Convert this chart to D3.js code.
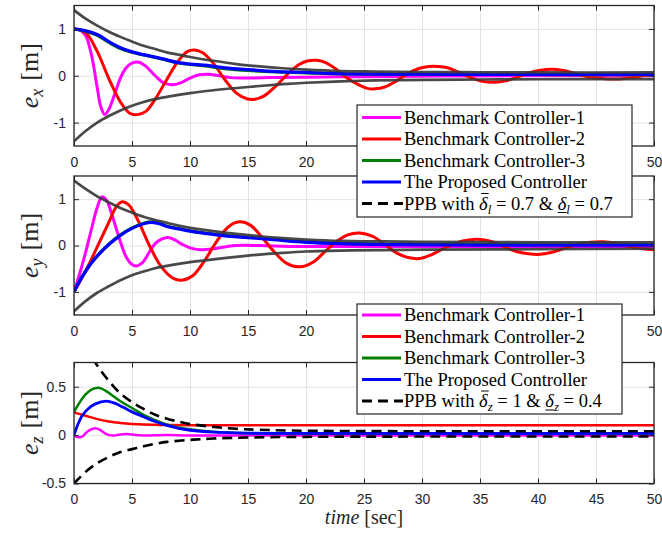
<!DOCTYPE html>
<html>
<head>
<meta charset="utf-8">
<script src="https://cdn.jsdelivr.net/npm/d3@7"></script>
<style>
  body { margin: 0; background: #fff; }
  svg { display: block; }
</style>
</head>
<body>
<svg id="chart" width="662" height="535"></svg>
<script>
// ---------- data: [time (s), error (m)] ----------
const xTickValues = [0, 5, 10, 15, 20, 25, 30, 35, 40, 45, 50];

// e_x
const exBench1 = [[0,1],[0.5,0.98],[1,0.86],[1.5,0.45],[2,-0.25],[2.3,-0.65],[2.65,-0.83],[3,-0.72],[3.5,-0.4],[4,-0.05],[4.5,0.17],[5,0.27],[5.6,0.29],[6.2,0.2],[7,0.0],[7.7,-0.15],[8.5,-0.19],[9.3,-0.14],[10,-0.05],[10.8,0.02],[11.6,0.03],[12.5,0.0],[13.5,-0.04],[15,-0.05],[17,-0.04],[20,-0.03],[25,-0.02],[30,-0.01],[35,-0.005],[40,0],[50,0]];
const exBench2 = [[0,1],[1,0.92],[2,0.52],[3,-0.06],[4,-0.56],[4.8,-0.8],[5.45,-0.83],[6.2,-0.76],[7,-0.5],[8,-0.08],[9,0.32],[9.8,0.52],[10.4,0.55],[11.1,0.49],[12,0.27],[13,-0.08],[14,-0.37],[14.9,-0.49],[15.6,-0.5],[16.4,-0.43],[17.4,-0.22],[18.4,0.03],[19.4,0.24],[20.2,0.32],[20.9,0.33],[21.7,0.28],[22.7,0.12],[23.6,-0.06],[24.6,-0.2],[25.3,-0.27],[25.95,-0.28],[26.8,-0.24],[27.8,-0.11],[28.8,0.05],[29.8,0.16],[30.6,0.2],[31.4,0.2],[32.2,0.17],[33.2,0.07],[34.2,-0.04],[35.2,-0.12],[36.3,-0.14],[37.2,-0.11],[38.2,-0.03],[39.2,0.06],[40.2,0.12],[41.3,0.14],[42.3,0.11],[43.3,0.04],[44.3,-0.02],[45.5,-0.06],[46.8,-0.07],[48,-0.04],[49,0.0],[50,0.04]];
const exBench3 = [[0,1],[1,0.95],[2,0.86],[3,0.71],[4,0.58],[5,0.5],[6,0.44],[7,0.39],[8,0.33],[9,0.27],[10,0.24],[11.5,0.2],[13,0.15],[15,0.11],[17.5,0.08],[20,0.06],[23,0.04],[27,0.03],[35,0.025],[50,0.02]];
const exProposed = [[0,1],[1,0.96],[2,0.88],[3,0.73],[4,0.6],[5,0.51],[6,0.45],[7,0.4],[8,0.34],[9,0.28],[10,0.25],[11.5,0.22],[13,0.17],[15,0.13],[17.5,0.09],[20,0.07],[23,0.045],[27,0.035],[35,0.03],[50,0.03]];
const exUpper = [[0,1.4],[1,1.22],[2,1.07],[3,0.94],[4,0.83],[5,0.73],[6,0.64],[7,0.57],[8,0.5],[9,0.45],[10,0.4],[12,0.32],[14,0.25],[16,0.2],[18,0.16],[20,0.13],[23,0.1],[26,0.09],[30,0.08],[35,0.075],[40,0.07],[50,0.07]];
const exLower = [[0,-1.4],[1,-1.18],[2,-1.0],[3,-0.86],[4,-0.74],[5,-0.64],[6,-0.56],[7,-0.5],[8,-0.45],[10,-0.37],[12,-0.31],[15,-0.24],[18,-0.18],[20,-0.15],[23,-0.12],[26,-0.1],[30,-0.09],[35,-0.08],[40,-0.075],[50,-0.07]];

// e_y
const eyBench1 = [[0,-1],[0.5,-0.6],[1,-0.15],[1.5,0.35],[2,0.82],[2.4,1.05],[2.8,0.98],[3.2,0.72],[3.6,0.4],[4,0.08],[4.5,-0.25],[5,-0.41],[5.4,-0.44],[5.9,-0.37],[6.5,-0.14],[7,0.04],[7.5,0.13],[8.1,0.17],[8.7,0.12],[9.3,0.03],[10,-0.05],[10.9,-0.09],[12,-0.07],[13,-0.03],[14,0.0],[16,0.0],[19,-0.02],[25,-0.02],[35,-0.02],[50,-0.02]];
const eyBench2 = [[0,-1],[1,-0.55],[2,-0.03],[3,0.5],[3.6,0.82],[4.1,0.94],[4.7,0.88],[5.5,0.55],[6.5,0.0],[7.5,-0.45],[8.5,-0.7],[9.3,-0.75],[10.2,-0.66],[11.2,-0.35],[12.2,0.05],[13.3,0.4],[14.25,0.51],[15.2,0.44],[16.2,0.18],[17.2,-0.12],[18.3,-0.38],[19.5,-0.46],[20.6,-0.36],[21.6,-0.14],[22.6,0.08],[23.6,0.23],[24.65,0.27],[25.7,0.2],[26.8,0.02],[27.8,-0.16],[28.8,-0.26],[29.8,-0.28],[30.8,-0.2],[31.9,-0.06],[33,0.06],[34,0.12],[35.1,0.13],[36.2,0.07],[37.3,-0.05],[38.3,-0.14],[39.2,-0.18],[40.2,-0.19],[41.3,-0.14],[42.4,-0.05],[43.5,0.03],[44.5,0.07],[45.6,0.08],[46.7,0.05],[48,-0.03],[49,-0.07],[50,-0.09]];
const eyBench3 = [[0,-1],[0.5,-0.75],[1,-0.55],[1.5,-0.37],[2,-0.22],[3,0.03],[4,0.23],[5,0.38],[6,0.48],[6.7,0.51],[7.5,0.47],[8,0.42],[9,0.37],[10,0.32],[11,0.28],[12,0.25],[13,0.22],[15,0.18],[17,0.14],[20,0.08],[23,0.05],[27,0.03],[35,0.02],[50,0.02]];
const eyProposed = [[0,-1],[0.5,-0.76],[1,-0.56],[1.5,-0.38],[2,-0.23],[3,0.02],[4,0.22],[5,0.37],[6,0.47],[6.7,0.5],[7.5,0.46],[8,0.41],[9,0.36],[10,0.31],[11,0.27],[12,0.24],[13,0.21],[15,0.17],[17,0.13],[20,0.07],[23,0.04],[27,0.02],[35,0.01],[50,0.01]];
const eyUpper = [[0,1.4],[1,1.22],[2,1.06],[3,0.93],[4,0.81],[5,0.71],[6,0.62],[7,0.55],[8,0.49],[9,0.43],[10,0.38],[12,0.31],[14,0.25],[16,0.2],[18,0.16],[20,0.13],[23,0.1],[26,0.09],[30,0.08],[40,0.07],[50,0.07]];
const eyLower = [[0,-1.42],[1,-1.2],[2,-1.02],[3,-0.88],[4,-0.75],[5,-0.64],[6,-0.56],[7,-0.49],[8,-0.44],[10,-0.36],[12,-0.3],[15,-0.22],[18,-0.16],[20,-0.13],[23,-0.11],[26,-0.1],[30,-0.09],[40,-0.08],[50,-0.07]];

// e_z
const ezBench1 = [[0,0],[0.3,-0.02],[0.7,-0.015],[1.2,0.04],[1.8,0.07],[2.3,0.05],[2.8,0.01],[3.3,-0.005],[4,0.005],[4.6,0.012],[5.3,0.0],[6,-0.005],[8,0.0],[10,-0.005],[20,-0.005],[50,-0.005]];
const ezBench2 = [[0,0.235],[1,0.2],[2,0.165],[3,0.14],[4,0.125],[5,0.115],[6,0.109],[7,0.106],[8,0.104],[10,0.103],[50,0.103]];
const ezBench3 = [[0,0.24],[0.5,0.34],[1,0.42],[1.5,0.47],[2.1,0.49],[2.7,0.46],[3.3,0.41],[4,0.35],[5,0.28],[6,0.21],[7,0.155],[8,0.11],[9,0.08],[10,0.06],[12,0.035],[15,0.02],[20,0.015],[50,0.015]];
const ezProposed = [[0,0],[0.3,0.1],[0.7,0.2],[1.2,0.27],[1.8,0.32],[2.8,0.35],[3.5,0.33],[4.2,0.29],[5,0.24],[6,0.19],[7,0.14],[8,0.1],[9,0.07],[10,0.05],[12,0.03],[15,0.02],[20,0.017],[50,0.017]];
const ezUpper = [[0,1.25],[0.5,1.08],[1,0.94],[1.5,0.82],[2,0.72],[3,0.56],[4,0.43],[5,0.34],[6,0.27],[7,0.21],[8,0.17],[9,0.14],[10,0.115],[12,0.085],[14,0.065],[16,0.055],[20,0.045],[30,0.04],[50,0.04]];
const ezLower = [[0,-0.5],[1,-0.38],[2,-0.29],[3,-0.225],[4,-0.175],[5,-0.145],[6,-0.115],[7,-0.09],[8,-0.07],[10,-0.05],[12,-0.035],[15,-0.025],[20,-0.018],[30,-0.015],[50,-0.015]];

const seriesNames = ["Benchmark Controller-1", "Benchmark Controller-2", "Benchmark Controller-3", "The Proposed Controller"];
const seriesColors = ["#ff00ff", "#ff0000", "#008000", "#0000ff"];

// ---------- layout ----------
const svg = d3.select("#chart");
const left = 74, right = 654;
const axisColor = "#262626";
const serif = "'Liberation Serif', 'Times New Roman', serif";
const x = d3.scaleLinear().domain([0, 50]).range([left, right]);

// legend boxes sit over the lower part of the upper two panels
const legendBoxes = [
  { x: 357, y: 105, w: 275, h: 112 },
  { x: 357, y: 304, w: 265, h: 110 }
];
const underLegend = (px, py) => legendBoxes.some(b => px > b.x && px < b.x + b.w && py > b.y && py < b.y + b.h);

const panels = [
  { sub: "x", top: 5.5, bottom: 146, domain: [-1.5, 1.5], ticks: [-1, 0, 1],
    series: [exBench1, exBench2, exBench3, exProposed], upper: exUpper, lower: exLower, dashed: false, lw: 3 },
  { sub: "y", top: 176, bottom: 315, domain: [-1.5, 1.5], ticks: [-1, 0, 1],
    series: [eyBench1, eyBench2, eyBench3, eyProposed], upper: eyUpper, lower: eyLower, dashed: false, lw: 3 },
  { sub: "z", top: 362.5, bottom: 483.5, domain: [-0.5, 0.75], ticks: [-0.5, 0, 0.5],
    series: [ezBench1, ezBench2, ezBench3, ezProposed], upper: ezUpper, lower: ezLower, dashed: true, lw: 2.5 }
];

const defs = svg.append("defs");

panels.forEach((p, i) => {
  const y = d3.scaleLinear().domain(p.domain).range([p.bottom, p.top]);
  const h = p.bottom - p.top;
  const g = svg.append("g");

  defs.append("clipPath").attr("id", "clip" + i)
    .append("rect").attr("x", left).attr("y", p.top).attr("width", right - left).attr("height", h);

  // grid
  g.append("g").attr("transform", `translate(0,${p.bottom})`)
    .call(d3.axisBottom(x).tickValues(xTickValues).tickSize(-h).tickFormat(""))
    .call(a => a.select(".domain").remove())
    .selectAll("line").attr("stroke", "#e3e3e3").attr("stroke-width", 1);
  g.append("g").attr("transform", `translate(${left},0)`)
    .call(d3.axisLeft(y).tickValues(p.ticks).tickSize(-(right - left)).tickFormat(""))
    .call(a => a.select(".domain").remove())
    .selectAll("line").attr("stroke", "#e3e3e3").attr("stroke-width", 1);

  // curves
  const line = d3.line().x(d => x(d[0])).y(d => y(d[1])).curve(d3.curveCatmullRom.alpha(0.5));
  const plot = g.append("g").attr("clip-path", `url(#clip${i})`);
  p.series.forEach((s, k) => {
    plot.append("path").datum(s).attr("d", line)
      .attr("fill", "none").attr("stroke", seriesColors[k])
      .attr("stroke-width", k === 3 ? p.lw + 0.3 : p.lw)
      .attr("stroke-linejoin", "round");
  });
  [p.upper, p.lower].forEach(b => {
    const path = plot.append("path").datum(b).attr("d", line).attr("fill", "none");
    if (p.dashed) {
      path.attr("stroke", "#000").attr("stroke-width", 2.6).attr("stroke-dasharray", "10,6");
    } else {
      path.attr("stroke", "#3a3a3a").attr("stroke-opacity", 0.92).attr("stroke-width", 2.7);
    }
  });

  // axes: inward ticks on all sides
  const styleAxis = a => {
    a.select(".domain").remove();
    a.selectAll("line").attr("stroke", axisColor).attr("stroke-width", 1);
    a.selectAll("text").attr("fill", axisColor).attr("font-family", "'Liberation Sans', Arial, sans-serif").attr("font-size", 14);
  };
  g.append("g").attr("transform", `translate(0,${p.bottom})`)
    .call(d3.axisBottom(x).tickValues(xTickValues).tickSize(-5).tickPadding(11).tickFormat(d3.format("d")))
    .call(styleAxis)
    .call(a => a.selectAll(".tick text").filter(d => underLegend(x(d), p.bottom + 16)).remove());
  g.append("g").attr("transform", `translate(0,${p.top})`)
    .call(d3.axisTop(x).tickValues(xTickValues).tickSize(-5).tickFormat(""))
    .call(styleAxis);
  g.append("g").attr("transform", `translate(${left},0)`)
    .call(d3.axisLeft(y).tickValues(p.ticks).tickSize(-5).tickPadding(8).tickFormat(d => String(d)))
    .call(styleAxis);
  g.append("g").attr("transform", `translate(${right},0)`)
    .call(d3.axisRight(y).tickValues(p.ticks).tickSize(-5).tickFormat(""))
    .call(styleAxis);

  g.append("rect").attr("x", left).attr("y", p.top).attr("width", right - left).attr("height", h)
    .attr("fill", "none").attr("stroke", axisColor).attr("stroke-width", 1.3);

  // y label: e_sub [m]
  const cy = (p.top + p.bottom) / 2;
  const lab = svg.append("text")
    .attr("transform", `translate(38,${cy}) rotate(-90)`)
    .attr("text-anchor", "middle")
    .attr("font-family", serif)
    .attr("font-size", 26).attr("fill", axisColor);
  lab.append("tspan").attr("font-style", "italic").text("e");
  lab.append("tspan").attr("font-style", "italic").attr("font-size", 18).attr("dy", 5).text(p.sub);
  lab.append("tspan").attr("dy", -5).attr("dx", 8).text("[m]");
});

// x label
const xl = svg.append("text")
  .attr("x", (left + right) / 2).attr("y", 524).attr("text-anchor", "middle")
  .attr("font-family", serif)
  .attr("font-size", 20).attr("fill", axisColor);
xl.append("tspan").attr("font-style", "italic").text("time");
xl.append("tspan").attr("dx", 5).text("[sec]");

// ---------- legends ----------
function drawLegend(box, rowY, ppbParts) {
  const g = svg.append("g");
  g.append("rect").attr("x", box.x).attr("y", box.y).attr("width", box.w).attr("height", box.h)
    .attr("fill", "#fff").attr("stroke", axisColor).attr("stroke-width", 1.2);
  seriesNames.forEach((name, k) => {
    const cy = rowY[k];
    g.append("line").attr("x1", box.x + 5).attr("x2", box.x + 44).attr("y1", cy).attr("y2", cy)
      .attr("stroke", seriesColors[k]).attr("stroke-width", 3);
    g.append("text").attr("x", box.x + 47).attr("y", cy + 6)
      .attr("font-family", serif).attr("font-size", 18.5).attr("fill", "#000").text(name);
  });
  const cy = rowY[4];
  g.append("line").attr("x1", box.x + 5).attr("x2", box.x + 46).attr("y1", cy).attr("y2", cy)
    .attr("stroke", "#000").attr("stroke-width", 3).attr("stroke-dasharray", "10,6");
  const t = g.append("text").attr("x", box.x + 47).attr("y", cy + 6)
    .attr("font-family", serif).attr("font-size", 18.5).attr("fill", "#000");
  let idx = 0;
  const marks = [];
  ppbParts.forEach((part, j) => {
    const ts = t.append("tspan").text(part.t);
    if (part.it) ts.attr("font-style", "italic");
    if (part.sub) ts.attr("font-size", 13).attr("dy", 4);
    const prev = ppbParts[j - 1];
    if (prev && prev.sub && !part.sub) ts.attr("dy", -4);
    if (part.over || part.under) marks.push({ i: idx, over: !!part.over });
    idx += part.t.length;
  });
  const node = t.node();
  marks.forEach(m => {
    const s = node.getStartPositionOfChar(m.i);
    const e = node.getEndPositionOfChar(m.i);
    const yy = m.over ? s.y - 16 : s.y + 3;
    g.append("line").attr("x1", s.x + (m.over ? 2 : 0)).attr("x2", e.x + (m.over ? 1 : 0))
      .attr("y1", yy).attr("y2", yy).attr("stroke", "#000").attr("stroke-width", 1);
  });
}

drawLegend(legendBoxes[0], [117.5, 139, 160.5, 182, 203.5], [
  { t: "PPB with " }, { t: "δ", it: true, over: true }, { t: "l", it: true, sub: true },
  { t: " = 0.7 & " }, { t: "δ", it: true, under: true }, { t: "l", it: true, sub: true }, { t: " = 0.7" }
]);
drawLegend(legendBoxes[1], [315, 336.5, 358, 379.5, 401], [
  { t: "PPB with " }, { t: "δ", it: true, over: true }, { t: "z", it: true, sub: true },
  { t: " = 1 & " }, { t: "δ", it: true, under: true }, { t: "z", it: true, sub: true }, { t: " = 0.4" }
]);
</script>
</body>
</html>
